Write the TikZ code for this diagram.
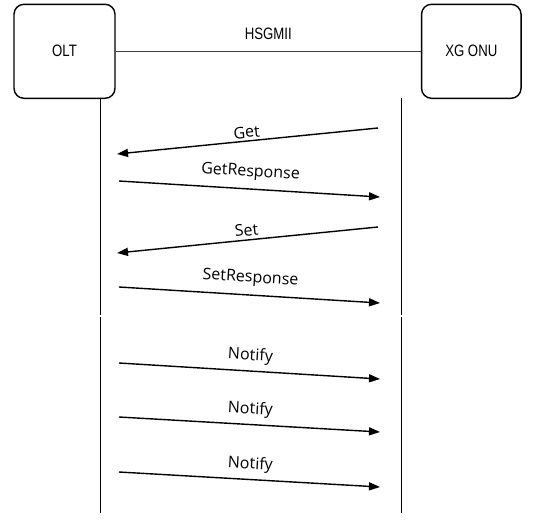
\documentclass[tikz,border=0pt]{standalone}
\usepackage{fontspec}
\setmainfont{Open Sans}
\newfontfamily\boxfont[FakeStretch=0.8]{Liberation Sans}
\usetikzlibrary{arrows.meta}
\begin{document}
\begin{tikzpicture}[x=1pt,y=-1pt,
  dev/.style={draw, line width=1.4pt, rounded corners=10pt, minimum width=100pt, minimum height=94pt, font=\boxfont\fontsize{16.5}{18}\selectfont},
  life/.style={line width=0.9pt},
  link/.style={line width=0.9pt, draw=black!75},
  msg/.style={line width=1.4pt},
  tipL/.style={{Triangle[length=11pt,width=8pt]}-},
  tipR/.style={-{Triangle[length=11pt,width=8pt]}},
  lbl/.style={font=\fontsize{16}{18}\selectfont, sloped, midway, inner sep=0pt, text depth=0pt}
]
\useasboundingbox (0,0) rectangle (547,520);

\node[dev, minimum width=101pt] (olt) at (64.5,51.3) {OLT};
\node[dev, minimum width=99.5pt] (onu) at (471.3,51.3) {XG ONU};
\draw[link] (olt) -- node[above=11pt, font=\boxfont\fontsize{16.5}{18}\selectfont, inner sep=0pt, text depth=0pt] {HSGMII} (onu);

% lifelines
\coordinate (la) at (100,98);
\coordinate (lb) at (100,315);
\coordinate (lc) at (100,317);
\coordinate (ld) at (100,513);
\coordinate (ra) at (401,98);
\coordinate (rb) at (401,315);
\coordinate (rc) at (401,317);
\coordinate (rd) at (401,513);
\draw[life] (la) -- (lb) (lc) -- (ld);
\draw[life] (ra) -- (rb) (rc) -- (rd);

% message end points
\coordinate (getL) at (117,154);  \coordinate (getR) at (378,128);
\coordinate (grL) at (119,181);   \coordinate (grR) at (380,197);
\coordinate (setL) at (117,253);  \coordinate (setR) at (378,227);
\coordinate (srL) at (119,287);   \coordinate (srR) at (380,303);
\coordinate (n1L) at (119,363);   \coordinate (n1R) at (380,379);
\coordinate (n2L) at (119,417);   \coordinate (n2R) at (380,432);
\coordinate (n3L) at (119,472);   \coordinate (n3R) at (380,487);

\draw[msg, tipL] (getL) -- node[lbl, above=2.5pt] {Get} (getR);
\draw[msg, tipR] (grL) -- node[lbl, above=12pt] {GetResponse} (grR);
\draw[msg, tipL] (setL) -- node[lbl, above=3.5pt] {Set} (setR);
\draw[msg, tipR] (srL) -- node[lbl, above=12pt] {SetResponse} (srR);
\draw[msg, tipR] (n1L) -- node[lbl, above=10pt] {Notify} (n1R);
\draw[msg, tipR] (n2L) -- node[lbl, above=10pt] {Notify} (n2R);
\draw[msg, tipR] (n3L) -- node[lbl, above=10pt] {Notify} (n3R);
\end{tikzpicture}
\end{document}
